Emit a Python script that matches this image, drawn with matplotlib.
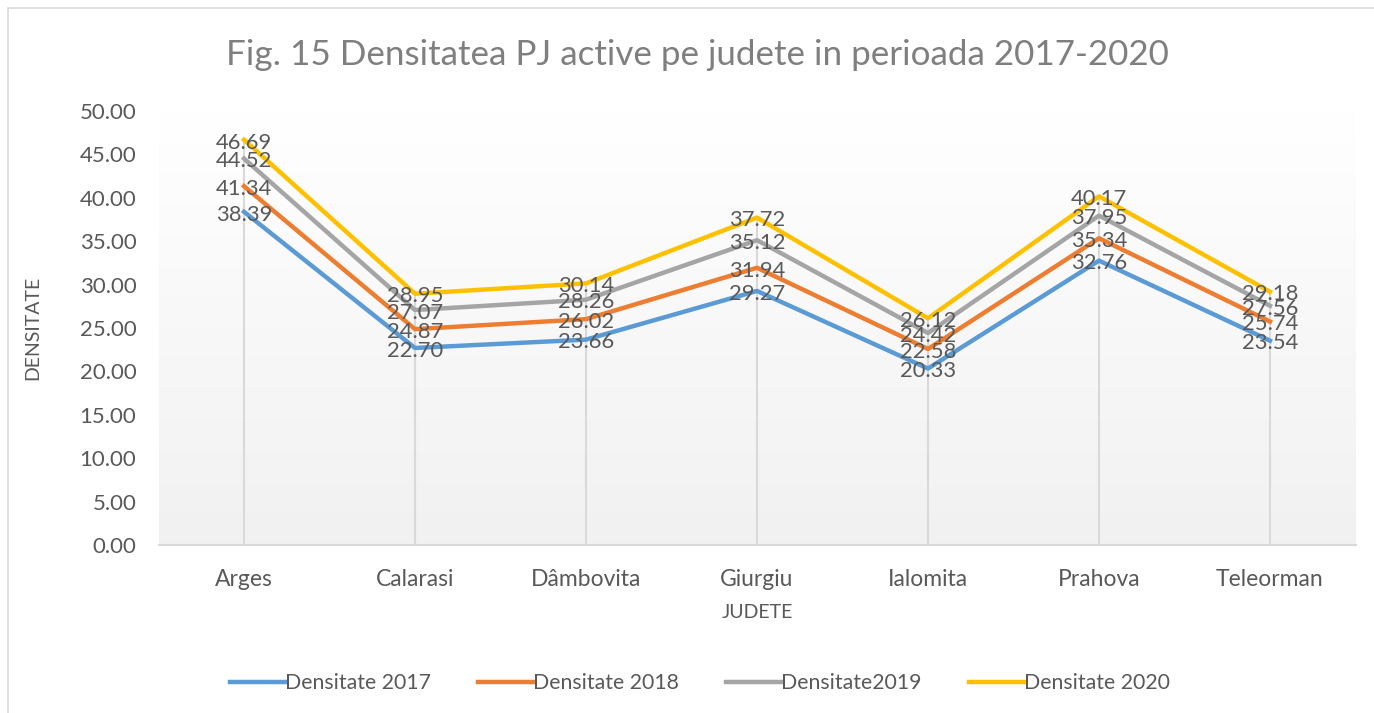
import numpy as np
import matplotlib.pyplot as plt
from matplotlib.patches import Rectangle

plt.rcParams['font.family'] = ['Lato', 'DejaVu Sans']

judete = ['Arges', 'Calarasi', 'Dâmbovita', 'Giurgiu', 'Ialomita', 'Prahova', 'Teleorman']
d2017 = [38.39, 22.70, 23.66, 29.27, 20.33, 32.76, 23.54]
d2018 = [41.34, 24.87, 26.02, 31.94, 22.58, 35.34, 25.74]
d2019 = [44.52, 27.07, 28.26, 35.12, 24.42, 37.95, 27.56]
d2020 = [46.69, 28.95, 30.14, 37.72, 26.12, 40.17, 29.18]
serii = ['Densitate 2017', 'Densitate 2018', 'Densitate2019', 'Densitate 2020']
culori = ['#5B9BD5', '#ED7D31', '#A5A5A5', '#FFC000']

txt = '#595959'
W, H = 1374, 713
fig = plt.figure(figsize=(W/100, H/100), dpi=100)
ax = fig.add_axes([158.5/W, 1-545/H, (1355.5-158.5)/W, (545-111)/H])

x = np.arange(len(judete))
ax.set_xlim(-0.5, len(judete)-0.5)
ax.set_ylim(0, 50)

# fundal cu gradient (alb sus, gri deschis jos)
grad = np.linspace(1.0, 0.945, 256).reshape(-1, 1)
ax.imshow(np.dstack([grad, grad, grad]), extent=[-0.5, len(judete)-0.5, 0, 50],
          aspect='auto', origin='upper', zorder=0)

# linii verticale (drop lines)
top = np.max([d2017, d2018, d2019, d2020], axis=0)
ax.vlines(x, 0, top, color='#D9D9D9', lw=1.5, zorder=1)

for vals, nume, c in zip([d2017, d2018, d2019, d2020], serii, culori):
    ax.plot(x, vals, color=c, lw=3.2, label=nume, zorder=3, solid_joinstyle='round')
    for xi, v in zip(x, vals):
        ax.annotate('%.2f' % v, (xi, v), xytext=(0, -2), textcoords='offset points',
                    ha='center', va='center', fontsize=15.8, color=txt, zorder=4)

for s in ['top', 'right', 'left']:
    ax.spines[s].set_visible(False)
ax.spines['bottom'].set_color('#D9D9D9')
ax.spines['bottom'].set_linewidth(1.5)

ax.set_yticks(np.arange(0, 51, 5))
ax.set_yticklabels(['%.2f' % v for v in np.arange(0, 51, 5)])
ax.set_xticks(x)
ax.set_xticklabels(judete)
ax.tick_params(axis='y', length=0, pad=16, labelsize=16, labelcolor=txt)
ax.tick_params(axis='x', length=0, pad=17, labelsize=16.5, labelcolor=txt)

fig.text(33/W, 1-328/H, 'DENSITATE', rotation=90, ha='center', va='center',
         fontsize=14, color=txt)
fig.text(757/W, 1-613/H, 'JUDETE', ha='center', va='center', fontsize=14, color=txt)
fig.text(697.5/W, 1-55/H, 'Fig. 15 Densitatea PJ active pe judete in perioada 2017-2020',
         ha='center', va='center', fontsize=25.2, color='#7F7F7F')

fig.legend(loc='center', bbox_to_anchor=(700/W, 1-683/H), ncol=4, frameon=False,
           fontsize=15.3, labelcolor=txt, handlelength=2.6, handletextpad=0.0,
           columnspacing=2.2)

# chenarul graficului
fig.patches.append(Rectangle((8/W, -0.01), 1.1, 1-8/H+0.01, transform=fig.transFigure,
                             fill=False, edgecolor='#D9D9D9', lw=1.2))

fig.savefig('out.png', dpi=100)
